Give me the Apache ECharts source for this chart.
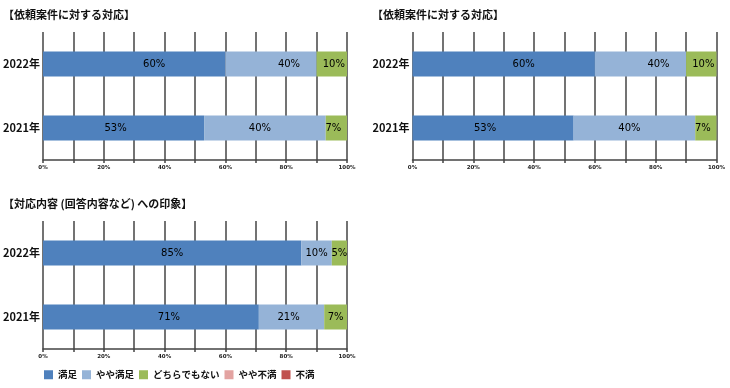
<!DOCTYPE html>
<html><head><meta charset="utf-8">
<script src="https://cdn.jsdelivr.net/npm/echarts@6/dist/echarts.min.js"></script>
<style>html,body{margin:0;padding:0;background:#fff}#c{width:730px;height:388px}</style>
</head><body><div id="c"></div>
<script>
// ---- data ----
const categories = ['2021年', '2022年'];
const seriesNames = ['満足', 'やや満足', 'どちらでもない', 'やや不満', '不満'];
const tickLabels = ['0%', '20%', '40%', '60%', '80%', '100%'];
const titles = ['【依頼案件に対する対応】', '【依頼案件に対する対応】', '【対応内容 (回答内容など) への印象】'];

// 依頼案件に対する対応 (bar lengths as drawn, order: 2021, 2022)
const taiouSatisfied = [53, 60];
const taiouSomewhat = [40, 30];
const taiouNeutral = [7, 10];
// printed labels
const taiouSatisfiedLabel = [53, 60];
const taiouSomewhatLabel = [40, 40];
const taiouNeutralLabel = [7, 10];

// 対応内容への印象
const inshouSatisfied = [71, 85];
const inshouSomewhat = [21.5, 10];
const inshouNeutral = [7.5, 5];
const inshouSatisfiedLabel = [71, 85];
const inshouSomewhatLabel = [21, 10];
const inshouNeutralLabel = [7, 5];

// ---- style ----
const colors = ['#4F81BD', '#95B3D7', '#9BBB59', '#E3A3A1', '#C0504D'];
// label horizontal shifts (px) per panel / series / category
const labelShift = [
  [[-8, 20], [-5, 18], [-3, 2]],
  [[-8, 20], [-5, 18], [-3, 2]],
  [[18, 0], [-3, 0], [0, 0]]
];
const grids = [
  {left: 43, top: 32, width: 304, height: 128},
  {left: 412.5, top: 32, width: 304, height: 128},
  {left: 43, top: 221, width: 304, height: 128}
];
const titlePos = [{left: 3, top: 9.5}, {left: 372, top: 9.5}, {left: 3, top: 198.5}];

const panelValues = [
  [taiouSatisfied, taiouSomewhat, taiouNeutral],
  [taiouSatisfied, taiouSomewhat, taiouNeutral],
  [inshouSatisfied, inshouSomewhat, inshouNeutral]
];
const panelLabels = [
  [taiouSatisfiedLabel, taiouSomewhatLabel, taiouNeutralLabel],
  [taiouSatisfiedLabel, taiouSomewhatLabel, taiouNeutralLabel],
  [inshouSatisfiedLabel, inshouSomewhatLabel, inshouNeutralLabel]
];

const cjk = '"Noto Sans CJK JP", "Noto Sans", sans-serif';
const lineColor = '#444';

const xAxes = grids.map((g, i) => ({
  type: 'value', gridIndex: i, min: 0, max: 100, interval: 10,
  axisLine: {show: true, lineStyle: {color: lineColor, width: 1.5}},
  axisTick: {show: true, length: 3, lineStyle: {color: lineColor, width: 1.5}},
  splitLine: {show: true, lineStyle: {color: lineColor, width: 1.5}},
  axisLabel: {
    margin: 5, fontSize: 5.5, fontWeight: 'bold', color: '#222', fontFamily: '"DejaVu Sans", sans-serif',
    formatter: v => (v % 20 === 0 ? tickLabels[v / 20] : '')
  }
}));
const yAxes = grids.map((g, i) => ({
  type: 'category', gridIndex: i, data: categories,
  axisLine: {show: false}, axisTick: {show: false}, splitLine: {show: false},
  axisLabel: {margin: 3, fontSize: 11, fontWeight: 'bold', color: '#111', fontFamily: cjk}
}));

const series = [];
panelValues.forEach((vals, gi) => {
  vals.forEach((arr, si) => {
    series.push({
      name: seriesNames[si], type: 'bar', stack: 'p' + gi, xAxisIndex: gi, yAxisIndex: gi,
      barWidth: 25, itemStyle: {color: colors[si]}, emphasis: {disabled: true},
      data: arr.map((v, ci) => ({
        value: v,
        label: {
          show: true, position: 'inside', offset: [labelShift[gi][si][ci], 0],
          formatter: panelLabels[gi][si][ci] + '%',
          fontSize: 10, color: '#000', fontFamily: '"DejaVu Sans", sans-serif'
        }
      }))
    });
  });
});
// legend-only series
[3, 4].forEach(si => series.push({
  name: seriesNames[si], type: 'bar', stack: 'p2', xAxisIndex: 2, yAxisIndex: 2,
  barWidth: 25, itemStyle: {color: colors[si]}, data: []
}));

const chart = echarts.init(document.getElementById('c'), null, {renderer: 'canvas'});
chart.setOption({
  animation: false,
  backgroundColor: '#fff',
  title: titles.map((t, i) => ({
    text: t, left: titlePos[i].left, top: titlePos[i].top, padding: 0,
    textStyle: {fontSize: 11, fontWeight: 'bold', color: '#111', fontFamily: cjk}
  })),
  grid: grids,
  xAxis: xAxes,
  yAxis: yAxes,
  legend: {
    data: seriesNames, left: 44, top: 370, padding: 0,
    itemWidth: 9, itemHeight: 9, itemGap: 5, icon: 'rect',
    selectedMode: false,
    textStyle: {fontSize: 9.5, fontWeight: 'bold', color: '#111', fontFamily: cjk}
  },
  series: series
});
</script></body></html>
